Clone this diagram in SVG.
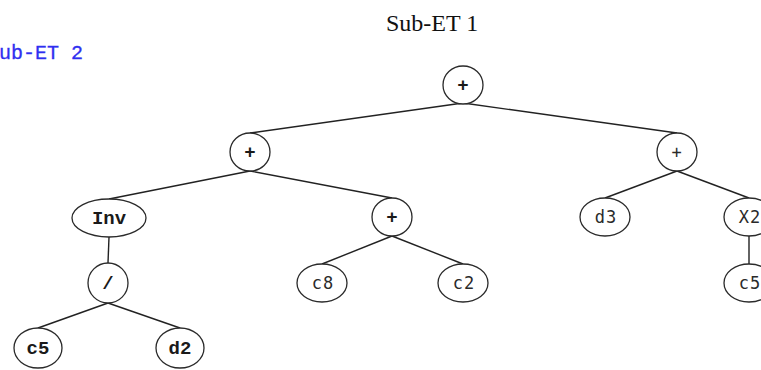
<svg xmlns="http://www.w3.org/2000/svg" width="761" height="370" viewBox="0 0 761 370">
  <style>
    .node { fill: #ffffff; stroke: #2a2a2a; stroke-width: 1.3; }
    .edge { stroke: #222222; stroke-width: 1.4; fill: none; }
    .lbl { font-family: "Liberation Mono", "DejaVu Sans Mono", monospace; font-size: 19px; fill: #1a1a1a; text-anchor: middle; font-weight: bold; }
    .leaf { font-family: "DejaVu Sans Mono", "Liberation Mono", monospace; font-size: 17px; font-weight: normal; fill: #2a2a2a; letter-spacing: 1px; }
    .title { font-family: "Liberation Serif", "DejaVu Serif", serif; font-size: 24px; fill: #111111; }
    .sub { font-family: "Liberation Mono", "DejaVu Sans Mono", monospace; font-size: 20px; fill: #2f2ff0; stroke: #2f2ff0; stroke-width: 0.3; }
  </style>
  <rect width="761" height="370" fill="#ffffff"/>

  <text class="title" x="386" y="31">Sub-ET 1</text>
  <text class="sub" x="-13" y="59">Sub-ET 2</text>

  <!-- connectors: parent bottom to child top -->
  <g id="edges">
    <line class="edge" x1="463" y1="103" x2="250" y2="133"/>
    <line class="edge" x1="463" y1="103" x2="677" y2="133"/>
    <line class="edge" x1="250" y1="171" x2="109" y2="199"/>
    <line class="edge" x1="250" y1="171" x2="392" y2="198"/>
    <line class="edge" x1="109" y1="237" x2="108" y2="263"/>
    <line class="edge" x1="108" y1="303" x2="38" y2="328"/>
    <line class="edge" x1="108" y1="303" x2="180" y2="328"/>
    <line class="edge" x1="392" y1="236" x2="322" y2="264"/>
    <line class="edge" x1="392" y1="236" x2="463" y2="264"/>
    <line class="edge" x1="677" y1="171" x2="605" y2="198"/>
    <line class="edge" x1="677" y1="171" x2="749" y2="198"/>
    <line class="edge" x1="749" y1="236" x2="749" y2="264"/>
  </g>

  <g id="root">
    <ellipse class="node" cx="463" cy="85" rx="20" ry="19"/>
    <text class="lbl" x="463" y="91">+</text>
  </g>
  <g id="plusLeft">
    <ellipse class="node" cx="250" cy="152" rx="20" ry="19"/>
    <text class="lbl" x="250" y="158">+</text>
  </g>
  <g id="plusRight">
    <ellipse class="node" cx="677" cy="152" rx="20" ry="19"/>
    <text class="lbl leaf" x="677" y="158">+</text>
  </g>
  <g id="inv">
    <ellipse class="node" cx="109" cy="218" rx="37" ry="19"/>
    <text class="lbl" x="109" y="224">Inv</text>
  </g>
  <g id="plusMid">
    <ellipse class="node" cx="392" cy="217" rx="20" ry="19"/>
    <text class="lbl" x="392" y="223">+</text>
  </g>
  <g id="d3">
    <ellipse class="node" cx="605" cy="217" rx="25" ry="19"/>
    <text class="lbl leaf" x="606" y="223">d3</text>
  </g>
  <g id="x2">
    <ellipse class="node" cx="749" cy="217" rx="25" ry="19"/>
    <text class="lbl leaf" x="750" y="223">X2</text>
  </g>
  <g id="div">
    <ellipse class="node" cx="108" cy="283" rx="20" ry="20"/>
    <text class="lbl" x="108" y="289">/</text>
  </g>
  <g id="c8">
    <ellipse class="node" cx="322" cy="283" rx="25" ry="19"/>
    <text class="lbl leaf" x="323" y="289">c8</text>
  </g>
  <g id="c2">
    <ellipse class="node" cx="463" cy="283" rx="25" ry="19"/>
    <text class="lbl leaf" x="464" y="289">c2</text>
  </g>
  <g id="c5right">
    <ellipse class="node" cx="749" cy="283" rx="25" ry="19"/>
    <text class="lbl leaf" x="750" y="289">c5</text>
  </g>
  <g id="c5left">
    <ellipse class="node" cx="38" cy="348" rx="24" ry="20"/>
    <text class="lbl" x="38" y="354">c5</text>
  </g>
  <g id="d2">
    <ellipse class="node" cx="180" cy="348" rx="24" ry="20"/>
    <text class="lbl" x="180" y="354">d2</text>
  </g>
</svg>
